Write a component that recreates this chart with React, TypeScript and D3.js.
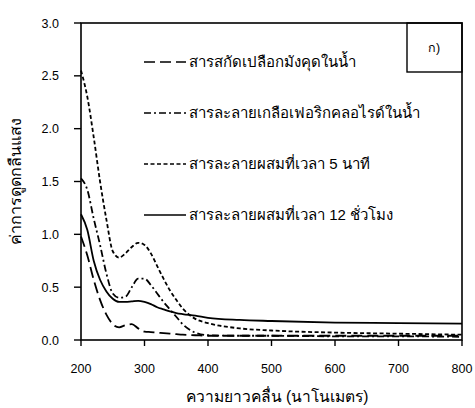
import React from "react";
import * as d3 from "d3";

const wavelengths = [200, 210, 220, 230, 240, 250, 260, 270, 280, 290, 300, 310, 320, 330, 340, 350, 360, 380, 400, 450, 500, 600, 700, 800];
const extractWater = [0.98, 0.8, 0.57, 0.38, 0.24, 0.15, 0.12, 0.14, 0.15, 0.11, 0.08, 0.075, 0.07, 0.065, 0.06, 0.055, 0.05, 0.045, 0.04, 0.04, 0.04, 0.04, 0.04, 0.04];
const ferricWater = [1.53, 1.42, 1.15, 0.9, 0.63, 0.44, 0.4, 0.41, 0.5, 0.58, 0.58, 0.52, 0.44, 0.36, 0.29, 0.22, 0.15, 0.07, 0.045, 0.04, 0.04, 0.035, 0.035, 0.03];
const mix5min = [2.55, 2.3, 1.92, 1.5, 1.14, 0.84, 0.78, 0.82, 0.88, 0.92, 0.9, 0.82, 0.7, 0.58, 0.47, 0.38, 0.3, 0.2, 0.16, 0.11, 0.09, 0.07, 0.06, 0.05];
const mix12h = [1.19, 1.04, 0.75, 0.57, 0.46, 0.39, 0.36, 0.36, 0.365, 0.37, 0.36, 0.34, 0.31, 0.29, 0.27, 0.255, 0.245, 0.23, 0.21, 0.19, 0.18, 0.165, 0.16, 0.155];

const seriesNames = [
  "สารสกัดเปลือกมังคุดในน้ำ",
  "สารละลายเกลือเฟอริกคลอไรด์ในน้ำ",
  "สารละลายผสมที่เวลา 5 นาที",
  "สารละลายผสมที่เวลา 12 ชั่วโมง",
];
const xTicks = [200, 300, 400, 500, 600, 700, 800];
const yTicks = [0, 0.5, 1.0, 1.5, 2.0, 2.5, 3.0];
const xTitle = "ความยาวคลื่น (นาโนเมตร)";
const yTitle = "ค่าการดูดกลืนแสง";
const panelLabel = "ก)";

const W = 475, H = 408;
const left = 81, right = 462, top = 23, bottom = 340;
const font = "'Liberation Sans', Arial, sans-serif";

export default function App() {
  const x = d3.scaleLinear().domain([200, 800]).range([left, right]);
  const y = d3.scaleLinear().domain([0, 3]).range([bottom, top]);
  const line = d3.line<number>()
    .x((_, i) => x(wavelengths[i]))
    .y((d) => y(d))
    .curve(d3.curveMonotoneX);
  const series = [
    { vals: extractWater, dash: "11,5" },
    { vals: ferricWater, dash: "7,3,2,3" },
    { vals: mix5min, dash: "4,2.5" },
    { vals: mix12h, dash: "none" },
  ];
  const legendY = [62, 113, 164, 215];
  return (
    <svg width={W} height={H} style={{ position: "absolute", left: 0, top: 0, background: "#fff" }}>
      <rect x={0} y={0} width={W} height={H} fill="#fff" />
      {series.map((s, i) => (
        <path key={i} d={line(s.vals) || ""} fill="none" stroke="#000" strokeWidth={1.8} strokeDasharray={s.dash} />
      ))}
      <rect x={left} y={top} width={right - left} height={bottom - top} fill="none" stroke="#000" strokeWidth={1.6} />
      <rect x={407} y={top} width={right - 407} height={72 - top} fill="none" stroke="#000" strokeWidth={1.4} />
      <text x={434} y={52} fontFamily={font} fontSize={12.5} textAnchor="middle">{panelLabel}</text>
      {yTicks.map((t) => (
        <g key={t}>
          <line x1={left - 7} x2={left} y1={y(t)} y2={y(t)} stroke="#000" strokeWidth={1.4} />
          <text x={59} y={y(t) + 4.5} fontFamily={font} fontSize={12.5} textAnchor="end">{t.toFixed(1)}</text>
        </g>
      ))}
      {xTicks.map((t) => (
        <g key={t}>
          <line x1={x(t)} x2={x(t)} y1={bottom} y2={bottom + 6} stroke="#000" strokeWidth={1.4} />
          <text x={x(t)} y={373} fontFamily={font} fontSize={12.5} textAnchor="middle">{t}</text>
        </g>
      ))}
      {series.map((s, i) => (
        <g key={i}>
          <line x1={144} x2={186} y1={legendY[i]} y2={legendY[i]} stroke="#000" strokeWidth={1.6} strokeDasharray={s.dash} />
          <text x={189} y={legendY[i] + 5} fontFamily={font} fontSize={15}>{seriesNames[i]}</text>
        </g>
      ))}
      <text x={277} y={402} fontFamily={font} fontSize={15.6} textAnchor="middle">{xTitle}</text>
      <text transform={`translate(21,181) rotate(-90)`} fontFamily={font} fontSize={16} textAnchor="middle">{yTitle}</text>
    </svg>
  );
}
